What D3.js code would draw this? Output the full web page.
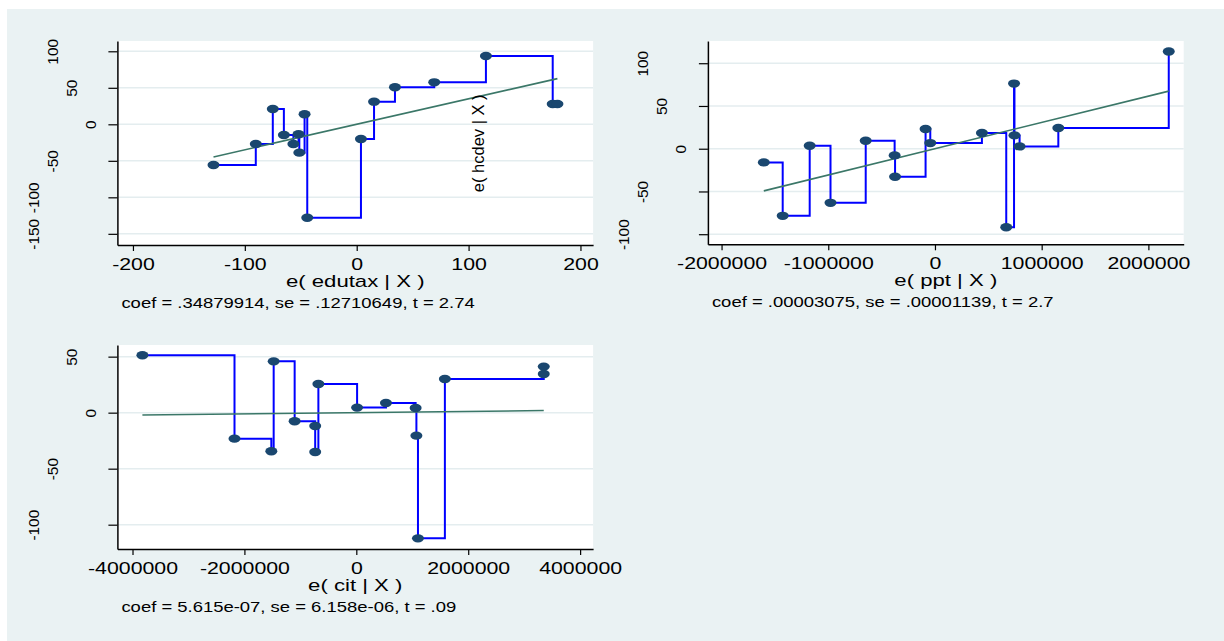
<!DOCTYPE html>
<html>
<head>
<meta charset="utf-8">
<script src="https://cdn.jsdelivr.net/npm/d3@7"></script>
<style>
	html, body { margin: 0; padding: 0; background: #ffffff; }
	svg { display: block; font-family: "Liberation Sans", Arial, sans-serif; }
</style>
</head>
<body>
<svg id="chart" width="1224" height="641"></svg>
<script>
// added-variable plots, values
const edutaxX = [-128.0, -90.2, -75.0, -65.1, -56.6, -52.0, -51.3, -46.6, -44.2, 3.8, 15.5, 34.2, 69.3, 115.5, 175.2, 179.4]
const edutaxY = [-55.7, -26.9, 21.0, -14.6, -26.9, -13.7, -38.8, 13.7, -127.9, -20.1, 31.0, 50.7, 57.5, 93.6, 27.9, 27.9]

const pptX = [-1604000, -1427000, -1174000, -979000, -649000, -378000, -374000, -88000, -44000, 440000, 668000, 741000, 745000, 793000, 1156000, 2191000]
const pptY = [-16.0, -78.5, 3.5, -63.3, 9.4, -7.8, -32.8, 23.0, 6.6, 18.4, -91.8, 76.2, 15.6, 2.7, 24.2, 113.7]

const citX = [-3823000, -2177000, -1519000, -1477000, -1102000, -735000, -735000, -678000, 14000, 530000, 1060000, 1074000, 1102000, 1583000, 3350000, 3350000]
const citY = [51.2, -23.2, -34.5, 45.8, -7.7, -11.9, -35.1, 25.6, 4.5, 8.6, 4.2, -20.5, -112.2, 30.1, 34.5, 41.1]

const coefs = [0.34879914, 0.00003075, 5.615e-07]

const edutaxXTicks = [-200, -100, 0, 100, 200]
const edutaxYTicks = [-150, -100, -50, 0, 50, 100]
const pptXTicks = [-2000000, -1000000, 0, 1000000, 2000000]
const pptYTicks = [-100, -50, 0, 50, 100]
const citXTicks = [-4000000, -2000000, 0, 2000000, 4000000]
const citYTicks = [-100, -50, 0, 50]

const xTitles = ["e( edutax | X )", "e( ppt | X )", "e( cit | X )"]
const notes = [
	"coef = .34879914, se = .12710649, t = 2.74",
	"coef = .00003075, se = .00001139, t = 2.7",
	"coef = 5.615e-07, se = 6.158e-06, t = .09",
]
const yTitle = "e( hcdev | X )"

// colours
const bgColor = "#eaf2f3"
const gridColor = "#e4edef"
const stepColor = "#0000ff"
const fitColor = "#3b7768"
const markerColor = "#1a476f"

// the exported picture is stretched sideways, horizontal text too
const tickStretch = 1.3
const titleStretch = 1.35

const panels = [
	{ xs: edutaxX, ys: edutaxY, coef: coefs[0], xTicks: edutaxXTicks, yTicks: edutaxYTicks,
	  title: xTitles[0], note: notes[0],
	  left: 117.4, right: 593.1, top: 41, bottom: 245,
	  xDomain: [-213.9, 211.3], yDomain: [-165.3, 114.1] },
	{ xs: pptX, ys: pptY, coef: coefs[1], xTicks: pptXTicks, yTicks: pptYTicks,
	  title: xTitles[1], note: notes[1],
	  left: 707.9, right: 1183.7, top: 41, bottom: 244.3,
	  xDomain: [-2128000, 2331000], yDomain: [-111.8, 126.0] },
	{ xs: citX, ys: citY, coef: coefs[2], xTicks: citXTicks, yTicks: citYTicks,
	  title: xTitles[2], note: notes[2],
	  left: 117.4, right: 593.1, top: 345, bottom: 549,
	  xDomain: [-4270000, 4232000], yDomain: [-121.7, 60.4] },
]

const svg = d3.select("#chart")

svg.append("rect")
	.attr("x", 7)
	.attr("y", 9)
	.attr("width", 1224 - 7)
	.attr("height", 641 - 9)
	.attr("fill", bgColor)

function drawPanel(p) {
	const width = p.right - p.left
	const height = p.bottom - p.top

	const x = d3.scaleLinear().domain(p.xDomain).range([0, width])
	const y = d3.scaleLinear().domain(p.yDomain).range([height, 0])

	const g = svg.append("g").attr("transform", `translate(${p.left},${p.top})`)

	g.append("rect")
		.attr("width", width)
		.attr("height", height)
		.attr("fill", "#ffffff")

	// grid
	g.selectAll(".grid")
		.data(p.yTicks)
		.join("line")
		.attr("class", "grid")
		.attr("x1", 0)
		.attr("x2", width)
		.attr("y1", (d) => y(d))
		.attr("y2", (d) => y(d))
		.attr("stroke", gridColor)
		.attr("stroke-width", 1.5)

	const pts = p.xs.map((v, i) => ({ x: v, y: p.ys[i] }))

	// stairstep connection in data order
	const step = d3.line()
		.x((d) => x(d.x))
		.y((d) => y(d.y))
		.curve(d3.curveStepAfter)

	g.append("path")
		.datum(pts)
		.attr("fill", "none")
		.attr("stroke", stepColor)
		.attr("stroke-width", 2)
		.attr("d", step)

	// fitted line, zero intercept
	const ext = d3.extent(p.xs)
	const fit = ext.map((v) => ({ x: v, y: p.coef * v }))
	g.append("path")
		.datum(fit)
		.attr("fill", "none")
		.attr("stroke", fitColor)
		.attr("stroke-width", 1.6)
		.attr("d", d3.line().x((d) => x(d.x)).y((d) => y(d.y)))

	g.selectAll(".pt")
		.data(pts)
		.join("ellipse")
		.attr("class", "pt")
		.attr("cx", (d) => x(d.x))
		.attr("cy", (d) => y(d.y))
		.attr("rx", 6)
		.attr("ry", 4.2)
		.attr("fill", markerColor)

	// x axis
	const xAxis = g.append("g")
		.attr("transform", `translate(0,${height})`)
		.call(d3.axisBottom(x)
			.tickValues(p.xTicks)
			.tickFormat((d) => String(d))
			.tickSize(6)
			.tickSizeOuter(0)
			.tickPadding(7.5))
	xAxis.select(".domain").attr("stroke", "#000").attr("stroke-width", 1.5)
	xAxis.selectAll(".tick line").attr("stroke", "#000").attr("stroke-width", 1.2)
	xAxis.selectAll(".tick text")
		.attr("fill", "#000")
		.style("font-size", "16.4px")
		.attr("transform", `scale(${tickStretch},1)`)

	// y axis, labels turned upright and pushed out by their length
	const yAxis = g.append("g")
		.call(d3.axisLeft(y)
			.tickValues(p.yTicks)
			.tickFormat((d) => String(d))
			.tickSize(9)
			.tickSizeOuter(0))
	yAxis.select(".domain").attr("stroke", "#000").attr("stroke-width", 1.5)
	yAxis.selectAll(".tick line").attr("stroke", "#000").attr("stroke-width", 1.2)
	yAxis.selectAll(".tick text")
		.attr("fill", "#000")
		.style("font-size", "15.4px")
		.attr("x", 0)
		.attr("y", 0)
		.attr("dy", "0.36em")
		.attr("text-anchor", "middle")
		.attr("transform", (d) => {
			const n = String(d).length
			return `translate(${-(8 + 19 * n)},0) rotate(-90)`
		})

	// axis title
	g.append("g")
		.attr("transform", `translate(${width / 2},${height + 41.5}) scale(${titleStretch},1)`)
		.append("text")
		.attr("text-anchor", "middle")
		.style("font-size", "16.4px")
		.text(p.title)

	// note under the title
	g.append("g")
		.attr("transform", `translate(4,${height + 62.5}) scale(${tickStretch},1)`)
		.append("text")
		.attr("text-anchor", "start")
		.style("font-size", "14.2px")
		.text(p.note)

	return g
}

const groups = panels.map(drawPanel)

// the y title lands inside the first panel in the original export
svg.append("text")
	.attr("transform", "translate(484,143.3) rotate(-90)")
	.attr("text-anchor", "middle")
	.style("font-size", "16.5px")
	.text(yTitle)
</script>
</body>
</html>
